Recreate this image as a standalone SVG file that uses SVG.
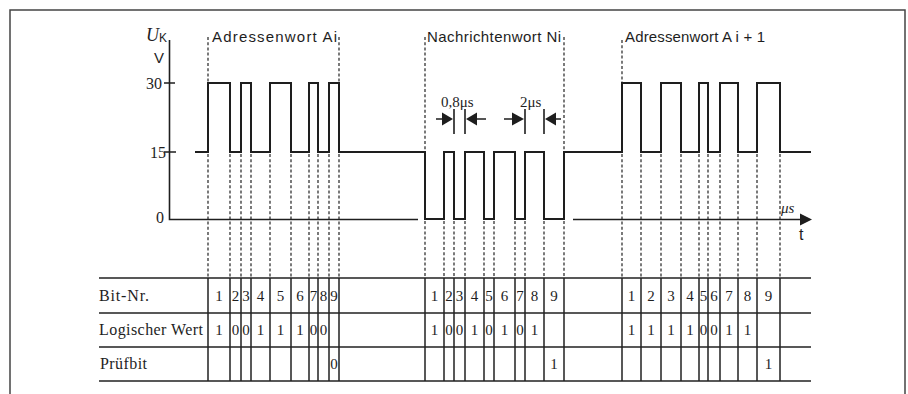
<svg xmlns="http://www.w3.org/2000/svg" width="908" height="394" viewBox="0 0 908 394">
<style>
.sig{fill:none;stroke:#1e1e1e;stroke-width:2;stroke-linejoin:miter}
.ax{fill:none;stroke:#1e1e1e;stroke-width:1.6}
.dash{fill:none;stroke:#222;stroke-width:1.2;stroke-dasharray:3 2.2}
.tl{fill:none;stroke:#222;stroke-width:1.5}
.ser{font-family:"Liberation Serif","Times New Roman",serif;fill:#1e1e1e}
.sans{font-family:"Liberation Sans",Arial,sans-serif;fill:#1e1e1e}
.dg{font-family:"Liberation Serif","Times New Roman",serif;font-size:15px;fill:#1e1e1e;text-anchor:middle}
.hd{font-family:"Liberation Sans",Arial,sans-serif;font-size:15px;fill:#1e1e1e}
</style>
<rect width="908" height="394" fill="#fff"/>
<g id="frame"><path d="M10,394 V10 H905 V394" fill="none" stroke="#444" stroke-width="1.5"/></g>

<g id="axes">
<path class="ax" d="M169.5,40 V219.5 H418"/>
<path class="ax" d="M573,219.5 H801"/>
<polygon points="800,213.5 812,219.5 800,225.5" fill="#1e1e1e"/>
<path class="ax" d="M164,83 H175 M164,152 H176"/>
<text class="ser" x="146" y="41" font-size="18" font-style="italic">U<tspan class="sans" font-size="12" font-style="normal" dy="1">K</tspan></text>
<text class="sans" x="154" y="63" font-size="15">V</text>
<text class="ser" x="146" y="89" font-size="16">30</text>
<text class="ser" x="150" y="158" font-size="16">15</text>
<text class="ser" x="156" y="223" font-size="16">0</text>
<text class="ser" x="781" y="213" font-size="15" font-style="italic">μs</text>
<text class="sans" x="799" y="240" font-size="16">t</text>
</g>

<g id="signal">
<path class="sig" d="M195,152 H208 V83 H230 V152 H241 V83 H251 V152 H270 V83 H291 V152 H309 V83 H318 V152 H329 V83 H339 V152 H425 V219 H444 V152 H454 V219 H465 V152 H484 V219 H494 V152 H515 V219 H525 V152 H544 V219 H564 V152 H622 V83 H641 V152 H661 V83 H681 V152 H699 V83 H708 V152 H720 V83 H738 V152 H757 V83 H780 V152 H811"/>
</g>

<g id="word-labels">
<text class="hd" x="212" y="42" textLength="125" lengthAdjust="spacing">Adressenwort Ai</text>
<text class="hd" x="427" y="42" textLength="134" lengthAdjust="spacing">Nachrichtenwort Ni</text>
<text class="hd" x="625" y="42" textLength="140" lengthAdjust="spacing">Adressenwort A i + 1</text>
</g>

<g id="dimensions">
<text class="ser" x="441" y="107" font-size="15">0,8μs</text>
<text class="ser" x="520" y="107" font-size="15">2μs</text>
<path class="ax" stroke-width="1.2" d="M436,119 H444 M477,119 H486 M504,119 H513 M555,119 H561 M454,109 V134 M465,109 V134 M525,109 V134 M544,109 V134"/>
<polygon points="442,112.5 453,119 442,125.5" fill="#1e1e1e"/>
<polygon points="477,112.5 466,119 477,125.5" fill="#1e1e1e"/>
<polygon points="512,112.5 524,119 512,125.5" fill="#1e1e1e"/>
<polygon points="556,112.5 545,119 556,125.5" fill="#1e1e1e"/>
</g>

<g id="connectors">
<path class="dash" d="M208,37 V83 M339,37 V83 M425,37 V152 M564,37 V152 M622,40 V83"/>
<path class="dash" d="M208,154 V278 M230,154 V278 M241,154 V278 M251,154 V278 M270,154 V278 M291,154 V278 M309,154 V278 M318,154 V278 M329,154 V278 M339,154 V278"/>
<path class="dash" d="M425,221 V278 M444,221 V278 M454,221 V278 M465,221 V278 M484,221 V278 M494,221 V278 M515,221 V278 M525,221 V278 M544,221 V278 M564,221 V278"/>
<path class="dash" d="M622,154 V278 M641,154 V278 M661,154 V278 M681,154 V278 M699,154 V278 M708,154 V278 M720,154 V278 M738,154 V278 M757,154 V278 M780,154 V278"/>
</g>

<g id="table">
<path class="tl" d="M99,278 H811 M99,313 H811 M99,347 H811 M99,381 H811"/>
<path class="tl" d="M208,278 V381 M230,278 V381 M241,278 V381 M251,278 V381 M270,278 V381 M291,278 V381 M309,278 V381 M318,278 V381 M329,278 V381 M339,278 V381"/>
<path class="tl" d="M425,278 V381 M444,278 V381 M454,278 V381 M465,278 V381 M484,278 V381 M494,278 V381 M515,278 V381 M525,278 V381 M544,278 V381 M564,278 V381"/>
<path class="tl" d="M622,278 V381 M641,278 V381 M661,278 V381 M681,278 V381 M699,278 V381 M708,278 V381 M720,278 V381 M738,278 V381 M757,278 V381 M780,278 V381"/>
<text class="ser" x="99" y="301" font-size="16" textLength="50" lengthAdjust="spacing">Bit-Nr.</text>
<text class="ser" x="99" y="335" font-size="16" textLength="104" lengthAdjust="spacing">Logischer Wert</text>
<text class="ser" x="100" y="369" font-size="16" textLength="47" lengthAdjust="spacing">Prüfbit</text>
<g id="bits-a">
<text class="dg" x="219" y="301">1</text><text class="dg" x="235.5" y="301">2</text><text class="dg" x="246" y="301">3</text><text class="dg" x="260.5" y="301">4</text><text class="dg" x="280.5" y="301">5</text><text class="dg" x="300" y="301">6</text><text class="dg" x="313.5" y="301">7</text><text class="dg" x="323.5" y="301">8</text><text class="dg" x="334" y="301">9</text>
<text class="dg" x="219" y="335">1</text><text class="dg" x="235.5" y="335">0</text><text class="dg" x="246" y="335">0</text><text class="dg" x="260.5" y="335">1</text><text class="dg" x="280.5" y="335">1</text><text class="dg" x="300" y="335">1</text><text class="dg" x="313.5" y="335">0</text><text class="dg" x="323.5" y="335">0</text>
<text class="dg" x="334" y="369">0</text>
</g>
<g id="bits-n">
<text class="dg" x="434.5" y="301">1</text><text class="dg" x="449" y="301">2</text><text class="dg" x="459.5" y="301">3</text><text class="dg" x="474.5" y="301">4</text><text class="dg" x="489" y="301">5</text><text class="dg" x="504.5" y="301">6</text><text class="dg" x="520" y="301">7</text><text class="dg" x="534.5" y="301">8</text><text class="dg" x="554" y="301">9</text>
<text class="dg" x="434.5" y="335">1</text><text class="dg" x="449" y="335">0</text><text class="dg" x="459.5" y="335">0</text><text class="dg" x="474.5" y="335">1</text><text class="dg" x="489" y="335">0</text><text class="dg" x="504.5" y="335">1</text><text class="dg" x="520" y="335">0</text><text class="dg" x="534.5" y="335">1</text>
<text class="dg" x="554" y="369">1</text>
</g>
<g id="bits-a1">
<text class="dg" x="631.5" y="301">1</text><text class="dg" x="651" y="301">2</text><text class="dg" x="671" y="301">3</text><text class="dg" x="690" y="301">4</text><text class="dg" x="703.5" y="301">5</text><text class="dg" x="714" y="301">6</text><text class="dg" x="729" y="301">7</text><text class="dg" x="747.5" y="301">8</text><text class="dg" x="768.5" y="301">9</text>
<text class="dg" x="631.5" y="335">1</text><text class="dg" x="651" y="335">1</text><text class="dg" x="671" y="335">1</text><text class="dg" x="690" y="335">1</text><text class="dg" x="703.5" y="335">0</text><text class="dg" x="714" y="335">0</text><text class="dg" x="729" y="335">1</text><text class="dg" x="747.5" y="335">1</text>
<text class="dg" x="768.5" y="369">1</text>
</g>
</g>
</svg>
